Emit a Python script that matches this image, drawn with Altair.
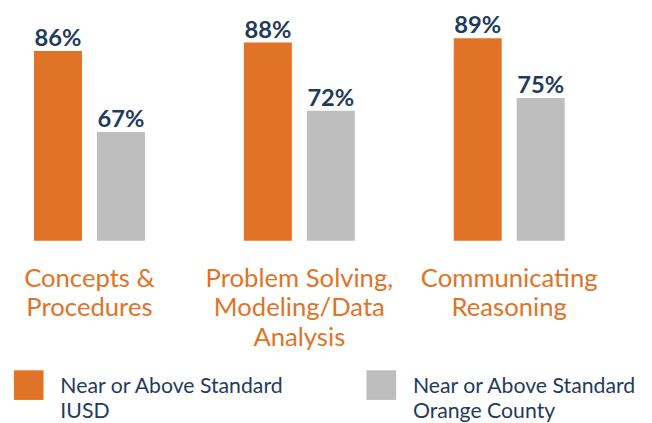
import altair as alt
import pandas as pd

categories = ["Concepts &|Procedures", "Problem Solving,|Modeling/Data|Analysis", "Communicating|Reasoning"]
series = ["Near or Above Standard|IUSD", "Near or Above Standard|Orange County"]
iusd = [86, 88, 89]
orange_county = [67, 72, 75]

ORANGE = "#E07326"
GRAY = "#BEBEBE"
NAVY = "#1F3B5C"

rows = []
for c, a, b in zip(categories, iusd, orange_county):
    rows.append({"category": c, "series": series[0], "value": a})
    rows.append({"category": c, "series": series[1], "value": b})
df = pd.DataFrame(rows)

YMIN, YMAX = 41.5, 95.5

x = alt.X(
    "category:N",
    sort=categories,
    scale=alt.Scale(paddingInner=0.4714, paddingOuter=0.1238),
    axis=alt.Axis(
        title=None, labelAngle=0, domain=False, ticks=False,
        labelExpr="split(datum.label, '|')",
        labelFont="Lato", labelFontSize=26, labelColor=ORANGE,
        labelLineHeight=30, labelPadding=25, labelBaseline="top",
        labelLimit=400,
    ),
)
xo = alt.XOffset("series:N", sort=series, scale=alt.Scale(paddingInner=0.238, paddingOuter=0))
y = alt.Y("value:Q", scale=alt.Scale(domain=[YMIN, YMAX], zero=False, nice=False), axis=None)

bars = alt.Chart(df).mark_bar().encode(
    x=x,
    xOffset=xo,
    y=y,
    y2=alt.datum(YMIN),
    color=alt.Color(
        "series:N",
        sort=series,
        scale=alt.Scale(domain=series, range=[ORANGE, GRAY]),
        legend=alt.Legend(
            title=None, orient="none", legendX=6, legendY=372,
            direction="horizontal", columns=2, columnPadding=83,
            symbolType="M-1,-1.533H1V0.467H-1Z", symbolSize=900, symbolStrokeWidth=0,
            labelFont="Lato", labelFontSize=21.5, labelColor=NAVY,
            labelExpr="split(datum.label, '|')",
            labelBaseline="alphabetic", labelOffset=17, labelLimit=400, padding=0,
        ),
    ),
)

labels = alt.Chart(df).transform_calculate(
    label="datum.value + '%'"
).mark_text(
    dy=-5, baseline="alphabetic", font="Lato", fontSize=24, fontWeight="bold", color=NAVY
).encode(
    x=x,
    xOffset=xo,
    y=y,
    text="label:N",
)

chart = (bars + labels).properties(
    width=590, height=233,
    autosize=alt.AutoSizeParams(type="none"),
    padding={"left": 0, "top": 0, "right": 54, "bottom": 182},
).configure(
    style={"guide-label": {"lineHeight": 25}}
).configure_view(stroke=None)

chart.save("out.html", embed_options={"renderer": "svg", "actions": False})
